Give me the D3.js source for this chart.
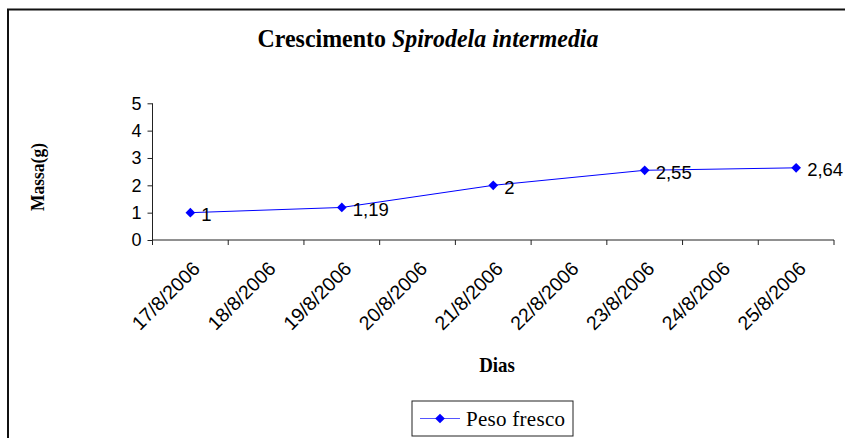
<!DOCTYPE html>
<html>
<head>
<meta charset="utf-8">
<script src="https://cdn.jsdelivr.net/npm/d3@7"></script>
<style>
  html, body { margin: 0; padding: 0; background: #fff; }
  svg { display: block; }
</style>
</head>
<body>
<svg id="chart" width="845" height="438"></svg>
<script>
// Fresh mass of Spirodela intermedia over the observation days
const days = ["17/8/2006", "18/8/2006", "19/8/2006", "20/8/2006", "21/8/2006",
              "22/8/2006", "23/8/2006", "24/8/2006", "25/8/2006"];
const measuredDays = ["17/8/2006", "19/8/2006", "21/8/2006", "23/8/2006", "25/8/2006"];
const pesoFresco = [1, 1.19, 2, 2.55, 2.64];
const valueLabels = ["1", "1,19", "2", "2,55", "2,64"];
const yTicks = [0, 1, 2, 3, 4, 5];
const seriesName = "Peso fresco";

const svg = d3.select("#chart");
const axisColor = "#222";
const lineColor = "#0000ff";
const sans = "'Liberation Sans', Arial, sans-serif";
const serif = "'Liberation Serif', 'Times New Roman', serif";

// outer chart frame (extends past the right and bottom edges)
svg.append("rect")
  .attr("x", 8).attr("y", 9.5)
  .attr("width", 900).attr("height", 500)
  .attr("fill", "none").attr("stroke", "#111").attr("stroke-width", 2);

const x = d3.scaleBand().domain(days).range([152.5, 834]).padding(0);
const y = d3.scaleLinear().domain([0, 5]).range([240, 103.3]);

// title (bold, slightly condensed)
const title = svg.append("text")
  .attr("transform", "translate(428,47) scale(0.92,1)")
  .attr("text-anchor", "middle")
  .attr("font-family", serif)
  .attr("font-weight", "bold")
  .attr("font-size", 26)
  .attr("fill", "#000");
title.append("tspan").text("Crescimento ");
title.append("tspan").attr("font-style", "italic").text("Spirodela intermedia");

// y axis
const yAxis = svg.append("g")
  .attr("transform", `translate(${x.range()[0]},0)`)
  .call(d3.axisLeft(y).tickValues(yTicks).tickSize(5).tickPadding(6).tickFormat(d3.format("d")));
yAxis.select(".domain").attr("stroke", axisColor).attr("d", `M0,${y(5)}V${y(0)}`);
yAxis.selectAll(".tick line").attr("stroke", axisColor);
yAxis.selectAll(".tick text")
  .attr("font-family", sans)
  .attr("font-size", 18).attr("fill", "#000");

// x axis (ticks on category boundaries)
const xAxisG = svg.append("g").attr("transform", `translate(0,${y(0)})`);
xAxisG.append("line")
  .attr("x1", x.range()[0]).attr("x2", x.range()[1])
  .attr("y1", 0).attr("y2", 0)
  .attr("stroke", axisColor);
const boundaries = days.map(d => x(d)).concat([x(days[days.length - 1]) + x.bandwidth()]);
xAxisG.selectAll(".bt").data(boundaries).join("line")
  .attr("class", "bt")
  .attr("x1", d => d).attr("x2", d => d)
  .attr("y1", 0).attr("y2", 5)
  .attr("stroke", axisColor);
xAxisG.selectAll(".xl").data(days).join("text")
  .attr("class", "xl")
  .attr("transform", d => `translate(${x(d) + x.bandwidth() / 2 + 1},${20}) rotate(-45)`)
  .attr("text-anchor", "end")
  .attr("dy", "0.72em")
  .attr("font-family", sans)
  .attr("font-size", 19.5)
  .attr("fill", "#000")
  .text(d => d);

// axis titles
svg.append("text")
  .attr("transform", `translate(44,177) rotate(-90) scale(0.92,1)`)
  .attr("text-anchor", "middle")
  .attr("font-family", serif)
  .attr("font-weight", "bold").attr("font-size", 19)
  .text("Massa(g)");
svg.append("text")
  .attr("transform", "translate(497,372) scale(0.9,1)")
  .attr("text-anchor", "middle")
  .attr("font-family", serif)
  .attr("font-weight", "bold").attr("font-size", 21)
  .text("Dias");

// series
const pts = measuredDays.map((d, i) => ({ day: d, v: pesoFresco[i], label: valueLabels[i] }));
const cx = d => x(d.day) + x.bandwidth() / 2;
const line = d3.line().x(cx).y(d => y(d.v));
svg.append("path").datum(pts)
  .attr("d", line)
  .attr("fill", "none").attr("stroke", lineColor).attr("stroke-width", 1);

const diamond = d3.symbol().type(d3.symbolDiamond2).size(60);
svg.selectAll(".mk").data(pts).join("path")
  .attr("class", "mk")
  .attr("transform", d => `translate(${cx(d)},${y(d.v)})`)
  .attr("d", diamond)
  .attr("fill", lineColor);

svg.selectAll(".vl").data(pts).join("text")
  .attr("class", "vl")
  .attr("x", d => cx(d) + 11)
  .attr("y", d => y(d.v) + 8.5)
  .attr("font-family", sans)
  .attr("font-size", 18.5)
  .attr("fill", "#000")
  .text(d => d.label);

// legend
const lg = svg.append("g");
lg.append("rect")
  .attr("x", 412).attr("y", 401).attr("width", 161).attr("height", 35)
  .attr("fill", "#fff").attr("stroke", "#222").attr("stroke-width", 1);
lg.append("line")
  .attr("x1", 420).attr("x2", 460).attr("y1", 418.5).attr("y2", 418.5)
  .attr("stroke", "#5555ff").attr("stroke-width", 1);
lg.append("path")
  .attr("transform", "translate(440,418.5)")
  .attr("d", diamond).attr("fill", lineColor);
lg.append("text")
  .attr("x", 466).attr("y", 426)
  .attr("font-family", serif)
  .attr("font-size", 21)
  .attr("textLength", 99)
  .attr("lengthAdjust", "spacing")
  .text(seriesName);
</script>
</body>
</html>
